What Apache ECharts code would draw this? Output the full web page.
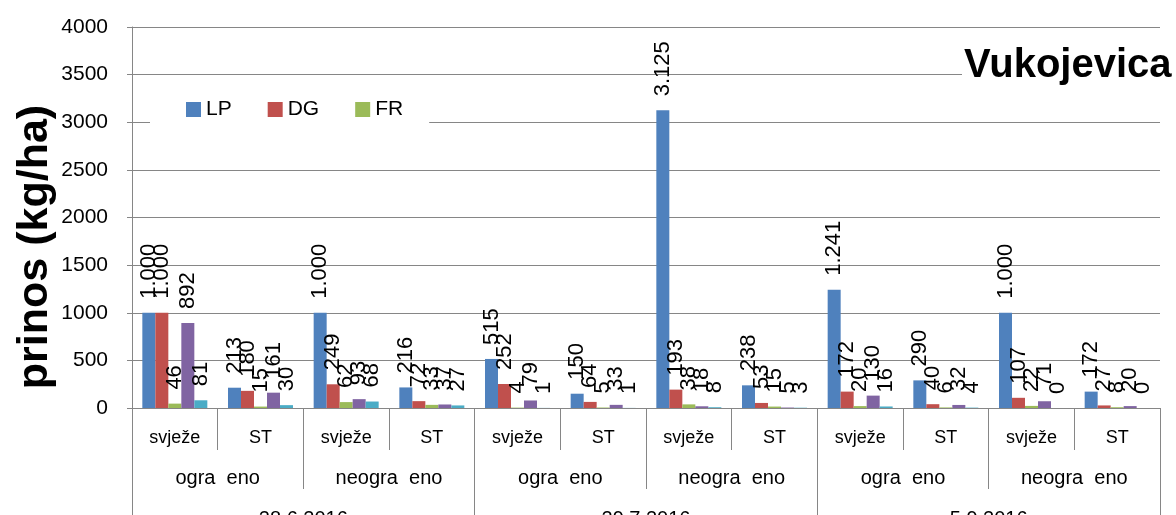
<!DOCTYPE html>
<html>
<head>
<meta charset="utf-8">
<script src="https://cdn.jsdelivr.net/npm/echarts@6/dist/echarts.min.js"></script>
<style>html,body{margin:0;padding:0;background:#fff;overflow:hidden}#c{width:1176px;height:515px}</style>
</head>
<body>
<div id="c"></div>
<script>
var level1 = ['svježe','ST','svježe','ST','svježe','ST','svježe','ST','svježe','ST','svježe','ST'];
var level2 = ['ogra  eno','neogra  eno','ogra  eno','neogra  eno','ogra  eno','neogra  eno'];
var level3 = ['28.6.2016','29.7.2016','5.9.2016'];
var seriesNames = ['LP','DG','FR','S4','S5'];
var LP = [1000, 213, 1000, 216, 515, 150, 3125, 238, 1241, 290, 1000, 172];
var DG = [1000, 180, 249, 72, 252, 64, 193, 53, 172, 40, 107, 27];
var FR = [46, 15, 62, 33, 4, 5, 38, 15, 20, 6, 22, 8];
var S4 = [892, 161, 93, 37, 79, 33, 18, 5, 130, 32, 71, 20];
var S5 = [81, 30, 68, 27, 1, 1, 8, 3, 16, 4, 0, 0];
var yTicks = [0, 4000, 500];

var colors = ['#4F81BD','#C0504D','#9BBB59','#8064A2','#4BACC6'];
var values = [LP, DG, FR, S4, S5];
var FONT = 'Liberation Sans';
function fmt(v){
  var s = String(Math.round(v));
  return s.replace(/\B(?=(\d{3})+(?!\d))/g, '.');
}
var chart = echarts.init(document.getElementById('c'), null, {renderer:'canvas'});
var series = values.map(function(arr, i){
  return {
    name: seriesNames[i], type: 'bar', data: arr, barWidth: 13, barGap: '0%',
    itemStyle: {color: colors[i]},
    label: {show: true, position: 'top', rotate: 90, align: 'left', verticalAlign: 'middle',
      distance: 14, color: '#000', fontFamily: FONT, fontSize: 22,
      formatter: function(p){ return fmt(p.value); }}
  };
});
var axisGray = '#868686';
chart.setOption({
  animation: false,
  grid: {left: 132, right: 16, top: 27, bottom: 107, containLabel: false, outerBoundsMode: 'none'},
  legend: {data: ['LP','DG','FR'], left: 150, top: 92, itemWidth: 15, itemHeight: 15, itemGap: 36,
    backgroundColor: '#fff', padding: [7, 26, 7, 36],
    icon: 'rect', textStyle: {fontFamily: FONT, fontSize: 21, color: '#000'}},
  xAxis: [
    {type: 'category', data: level1, gridIndex: 0, position: 'bottom',
      axisLine: {show: true, lineStyle: {color: axisGray}},
      axisTick: {show: true, length: 42, lineStyle: {color: axisGray}},
      axisLabel: {margin: 21, fontFamily: FONT, fontSize: 18, color: '#000'}},
    {type: 'category', data: level2, gridIndex: 0, position: 'bottom', offset: 42,
      axisLine: {show: false},
      axisTick: {show: true, length: 39, lineStyle: {color: axisGray}},
      axisLabel: {margin: 18, fontFamily: FONT, fontSize: 20, color: '#000'}},
    {type: 'category', data: level3, gridIndex: 0, position: 'bottom', offset: 81,
      axisLine: {show: false},
      axisTick: {show: true, length: 40, lineStyle: {color: axisGray}},
      axisLabel: {margin: 20, fontFamily: FONT, fontSize: 20, color: '#000'}}
  ],
  yAxis: {type: 'value', min: yTicks[0], max: yTicks[1], interval: yTicks[2],
    axisLine: {show: true, lineStyle: {color: axisGray}},
    axisTick: {show: true, length: 5, lineStyle: {color: axisGray}},
    splitLine: {show: true, lineStyle: {color: axisGray, width: 1}},
    axisLabel: {margin: 24, fontFamily: FONT, fontSize: 21, color: '#000',
      formatter: function(v){ return String(v); }}},
  graphic: [
    {type: 'text', left: 962, top: 44, z: 100,
      style: {text: 'Vukojevica', fontFamily: FONT, fontWeight: 'bold', fontSize: 40, fill: '#000',
        backgroundColor: '#fff', padding: [2, 4, 2, 2]}},
    {type: 'text', x: 35, y: 247, rotation: Math.PI/2, z: 100,
      style: {text: 'prinos (kg/ha)', fontFamily: FONT, fontWeight: 'bold', fontSize: 43, fill: '#000',
        align: 'center', verticalAlign: 'middle'}}
  ],
  series: series
});
</script>
</body>
</html>
